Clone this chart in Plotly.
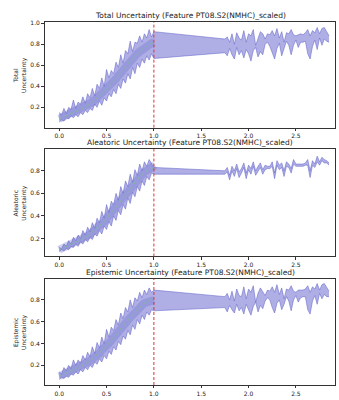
import plotly.graph_objects as go
from plotly.subplots import make_subplots

# ---------------- data ----------------
x_dense = [0.0, 0.025, 0.05, 0.075, 0.1, 0.125, 0.15, 0.175, 0.2, 0.225, 0.25, 0.275, 0.3, 0.325,
           0.35, 0.375, 0.4, 0.425, 0.45, 0.475, 0.5, 0.525, 0.55, 0.575, 0.6, 0.625, 0.65, 0.675,
           0.7, 0.725, 0.75, 0.775, 0.8, 0.825, 0.85, 0.875, 0.9, 0.925, 0.95, 0.975, 1.0]
x_sparse = [1.75, 1.775, 1.8, 1.825, 1.85, 1.875, 1.9, 1.925, 1.95, 1.975, 2.0, 2.025, 2.05, 2.075,
            2.1, 2.125, 2.15, 2.175, 2.2, 2.225, 2.25, 2.275, 2.3, 2.325, 2.35, 2.375, 2.4, 2.425,
            2.45, 2.475, 2.5, 2.525, 2.55, 2.575, 2.6, 2.625, 2.65, 2.675, 2.7, 2.725, 2.75, 2.775,
            2.8, 2.825, 2.85]

mean_total = [0.09, 0.1, 0.11, 0.12, 0.13, 0.14, 0.15, 0.16, 0.17, 0.18, 0.19, 0.2, 0.22, 0.23,
              0.25, 0.27, 0.29, 0.31, 0.33, 0.35, 0.38, 0.4, 0.42, 0.45, 0.47, 0.5, 0.53, 0.56,
              0.58, 0.61, 0.64, 0.66, 0.69, 0.71, 0.73, 0.75, 0.77, 0.78, 0.8, 0.81, 0.82]
total_upper_dense = [0.15, 0.13, 0.19, 0.14, 0.2, 0.18, 0.27, 0.19, 0.25, 0.23, 0.3, 0.24, 0.33, 0.29,
                     0.38, 0.31, 0.42, 0.38, 0.48, 0.4, 0.56, 0.48, 0.55, 0.52, 0.63, 0.58, 0.7, 0.62,
                     0.74, 0.71, 0.83, 0.73, 0.82, 0.81, 0.88, 0.82, 0.9, 0.86, 0.94, 0.87, 0.92]
total_lower_dense = [0.06, 0.08, 0.07, 0.1, 0.09, 0.12, 0.1, 0.13, 0.11, 0.15, 0.13, 0.17, 0.15, 0.19,
                     0.17, 0.23, 0.2, 0.26, 0.22, 0.29, 0.26, 0.33, 0.3, 0.37, 0.33, 0.42, 0.38, 0.47,
                     0.43, 0.52, 0.47, 0.58, 0.52, 0.62, 0.58, 0.66, 0.62, 0.69, 0.65, 0.71, 0.665]
total_upper_sparse = [0.85, 0.87, 0.82, 0.9, 0.8, 0.91, 0.86, 0.84, 0.93, 0.82, 0.9, 0.88, 0.94, 0.79,
                      0.86, 0.92, 0.9, 0.85, 0.9, 0.89, 0.93, 0.88, 0.95, 0.86, 0.92, 0.82, 0.91, 0.9,
                      0.94, 0.89, 0.88, 0.89, 0.9, 0.89, 0.91, 0.94, 0.88, 0.93, 0.91, 0.96, 0.9, 0.95,
                      0.96, 0.92, 0.88]
total_lower_sparse = [0.72, 0.69, 0.76, 0.7, 0.66, 0.77, 0.7, 0.74, 0.67, 0.75, 0.71, 0.64, 0.74, 0.77,
                      0.68, 0.73, 0.7, 0.8, 0.82, 0.78, 0.71, 0.66, 0.76, 0.81, 0.69, 0.75, 0.83, 0.79,
                      0.7, 0.79, 0.84, 0.77, 0.82, 0.82, 0.83, 0.71, 0.66, 0.78, 0.84, 0.75, 0.86, 0.79,
                      0.85, 0.83, 0.82]

mean_alea = [0.1, 0.11, 0.12, 0.125, 0.135, 0.15, 0.155, 0.165, 0.175, 0.19, 0.2, 0.21, 0.225, 0.235,
             0.26, 0.27, 0.3, 0.31, 0.33, 0.35, 0.38, 0.4, 0.43, 0.45, 0.48, 0.5, 0.54, 0.56,
             0.59, 0.61, 0.64, 0.66, 0.7, 0.72, 0.75, 0.76, 0.79, 0.8, 0.82, 0.83, 0.8]
alea_upper_dense = [0.12, 0.11, 0.15, 0.13, 0.18, 0.15, 0.21, 0.18, 0.23, 0.2, 0.27, 0.23, 0.3, 0.26,
                    0.34, 0.29, 0.38, 0.34, 0.44, 0.38, 0.5, 0.43, 0.53, 0.5, 0.6, 0.54, 0.66, 0.6,
                    0.71, 0.66, 0.77, 0.7, 0.81, 0.76, 0.86, 0.8, 0.88, 0.84, 0.9, 0.86, 0.83]
alea_lower_dense = [0.08, 0.1, 0.09, 0.11, 0.1, 0.13, 0.12, 0.15, 0.13, 0.17, 0.15, 0.19, 0.17, 0.21,
                    0.19, 0.24, 0.22, 0.27, 0.24, 0.31, 0.28, 0.35, 0.31, 0.4, 0.36, 0.45, 0.41, 0.5,
                    0.46, 0.56, 0.51, 0.61, 0.57, 0.66, 0.62, 0.71, 0.67, 0.75, 0.72, 0.78, 0.77]
alea_upper_sparse = [0.8, 0.83, 0.76, 0.84, 0.8, 0.86, 0.79, 0.82, 0.87, 0.78, 0.85, 0.82, 0.88, 0.8,
                     0.84, 0.87, 0.81, 0.85, 0.84, 0.84, 0.88, 0.78, 0.89, 0.85, 0.87, 0.8, 0.88, 0.86,
                     0.82, 0.9, 0.86, 0.86, 0.86, 0.86, 0.87, 0.9, 0.8, 0.89, 0.86, 0.93, 0.88, 0.92,
                     0.9, 0.89, 0.87]
alea_lower_sparse = [0.77, 0.79, 0.72, 0.8, 0.75, 0.82, 0.74, 0.78, 0.83, 0.73, 0.81, 0.77, 0.84, 0.76,
                     0.8, 0.83, 0.77, 0.81, 0.82, 0.82, 0.84, 0.73, 0.85, 0.81, 0.83, 0.75, 0.84, 0.83,
                     0.78, 0.86, 0.84, 0.84, 0.84, 0.84, 0.85, 0.85, 0.74, 0.85, 0.83, 0.88, 0.85, 0.89,
                     0.87, 0.87, 0.85]

mean_epi = [0.1, 0.11, 0.12, 0.13, 0.14, 0.15, 0.16, 0.17, 0.18, 0.19, 0.2, 0.21, 0.23, 0.24,
            0.26, 0.27, 0.3, 0.31, 0.34, 0.35, 0.38, 0.4, 0.43, 0.45, 0.48, 0.5, 0.54, 0.56,
            0.59, 0.61, 0.64, 0.66, 0.69, 0.71, 0.73, 0.75, 0.77, 0.78, 0.8, 0.81, 0.8]
epi_upper_dense = [0.14, 0.12, 0.18, 0.15, 0.2, 0.17, 0.25, 0.2, 0.25, 0.22, 0.29, 0.25, 0.32, 0.28,
                   0.37, 0.31, 0.41, 0.36, 0.46, 0.4, 0.53, 0.46, 0.55, 0.52, 0.62, 0.57, 0.68, 0.63,
                   0.73, 0.69, 0.8, 0.73, 0.82, 0.79, 0.87, 0.82, 0.89, 0.85, 0.91, 0.87, 0.89]
epi_lower_dense = [0.07, 0.09, 0.08, 0.1, 0.09, 0.12, 0.11, 0.14, 0.12, 0.16, 0.14, 0.18, 0.16, 0.2,
                   0.18, 0.23, 0.21, 0.26, 0.23, 0.29, 0.26, 0.33, 0.3, 0.37, 0.34, 0.42, 0.39, 0.47,
                   0.44, 0.52, 0.48, 0.57, 0.53, 0.62, 0.58, 0.66, 0.62, 0.69, 0.66, 0.71, 0.70]
epi_upper_sparse = [0.83, 0.86, 0.8, 0.88, 0.79, 0.9, 0.84, 0.83, 0.92, 0.81, 0.9, 0.87, 0.93, 0.78,
                    0.86, 0.91, 0.88, 0.84, 0.89, 0.88, 0.92, 0.87, 0.94, 0.85, 0.91, 0.81, 0.9, 0.89,
                    0.93, 0.88, 0.87, 0.89, 0.89, 0.89, 0.9, 0.93, 0.87, 0.92, 0.9, 0.95, 0.89, 0.94,
                    0.95, 0.91, 0.88]
epi_lower_sparse = [0.73, 0.69, 0.75, 0.71, 0.68, 0.76, 0.7, 0.73, 0.67, 0.76, 0.71, 0.66, 0.74, 0.78,
                    0.69, 0.75, 0.72, 0.79, 0.82, 0.8, 0.73, 0.68, 0.77, 0.8, 0.71, 0.76, 0.83, 0.79,
                    0.7, 0.8, 0.84, 0.78, 0.82, 0.83, 0.83, 0.71, 0.67, 0.79, 0.84, 0.76, 0.86, 0.81,
                    0.85, 0.83, 0.83]

titles = ["Total Uncertainty (Feature PT08.S2(NMHC)_scaled)",
          "Aleatoric Uncertainty (Feature PT08.S2(NMHC)_scaled)",
          "Epistemic Uncertainty (Feature PT08.S2(NMHC)_scaled)"]
ylabels = ["Total<br>Uncertainty", "Aleatoric<br>Uncertainty", "Epistemic<br>Uncertainty"]
x_ticks = [0.0, 0.5, 1.0, 1.5, 2.0, 2.5]
threshold = 1.0

panels = [
    (mean_total, total_upper_dense, total_lower_dense, total_upper_sparse, total_lower_sparse),
    (mean_alea, alea_upper_dense, alea_lower_dense, alea_upper_sparse, alea_lower_sparse),
    (mean_epi, epi_upper_dense, epi_lower_dense, epi_upper_sparse, epi_lower_sparse),
]
y_ranges = [[0.007, 1.012], [0.04, 0.993], [0.02, 0.995]]
y_ticks = [[0.2, 0.4, 0.6, 0.8, 1.0], [0.2, 0.4, 0.6, 0.8], [0.2, 0.4, 0.6, 0.8]]
y_domains = [[0.709, 1.0], [0.354, 0.650], [0.0, 0.293]]

# ---------------- figure ----------------
fig = make_subplots(rows=3, cols=1)
FILL = "rgba(110,110,210,0.55)"
EDGE = "rgba(95,95,200,0.75)"

for i, (mean, ud, ld, us, ls) in enumerate(panels):
    r = i + 1
    xs = x_dense + x_sparse
    upper = ud + us
    lower = ld + ls
    fig.add_trace(go.Scatter(x=xs, y=lower, mode="lines", line=dict(color=EDGE, width=0.7),
                             showlegend=False, hoverinfo="skip"), row=r, col=1)
    fig.add_trace(go.Scatter(x=xs, y=upper, mode="lines", line=dict(color=EDGE, width=0.7),
                             fill="tonexty", fillcolor=FILL, showlegend=False, hoverinfo="skip"),
                  row=r, col=1)
    # darker core around the mean
    fig.add_trace(go.Scatter(x=x_dense, y=mean, mode="lines",
                             line=dict(color="rgba(100,100,200,0.3)", width=8),
                             showlegend=False, hoverinfo="skip"), row=r, col=1)
    fig.add_trace(go.Scatter(x=x_dense, y=mean, mode="lines",
                             line=dict(color="rgba(110,200,120,0.75)", width=1, dash="dot"),
                             showlegend=False, hoverinfo="skip"), row=r, col=1)
    fig.add_shape(type="line", x0=threshold, x1=threshold, y0=0, y1=1,
                  xref=f"x{'' if r == 1 else r}", yref=f"y{'' if r == 1 else r} domain",
                  line=dict(color="#e03030", width=1, dash="3px,2px"))

axis_font = dict(family="DejaVu Sans", size=6, color="#222")
for i in range(3):
    r = i + 1
    fig.update_xaxes(row=r, col=1, range=[-0.15, 2.913], tickvals=x_ticks, tickformat=".1f",
                     showline=True, mirror=True, linecolor="#333", linewidth=0.8,
                     ticks="outside", ticklen=2.5, tickwidth=0.8, tickcolor="#333",
                     showgrid=False, zeroline=False, tickfont=axis_font)
    fig.update_yaxes(row=r, col=1, range=y_ranges[i], tickvals=y_ticks[i], tickformat=".1f",
                     domain=y_domains[i],
                     showline=True, mirror=True, linecolor="#333", linewidth=0.8,
                     ticks="outside", ticklen=3, tickwidth=0.8, tickcolor="#333",
                     showgrid=False, zeroline=False, tickfont=axis_font)
    top = y_domains[i][1]
    fig.add_annotation(text=titles[i], xref="paper", yref="paper", x=0.5, y=top,
                       yshift=0, yanchor="bottom", xanchor="center", showarrow=False,
                       font=dict(family="DejaVu Sans", size=7.5, color="#222"))
    mid = (y_domains[i][0] + y_domains[i][1]) / 2
    fig.add_annotation(text=ylabels[i], xref="paper", yref="paper", x=-0.086, y=mid,
                       textangle=-90, xanchor="center", yanchor="middle", showarrow=False,
                       font=dict(family="DejaVu Sans", size=6, color="#222"))

fig.update_layout(width=339, height=400, margin=dict(l=45, r=3, t=22, b=7),
                  plot_bgcolor="white", paper_bgcolor="white", showlegend=False)
fig.write_html("out.html")
